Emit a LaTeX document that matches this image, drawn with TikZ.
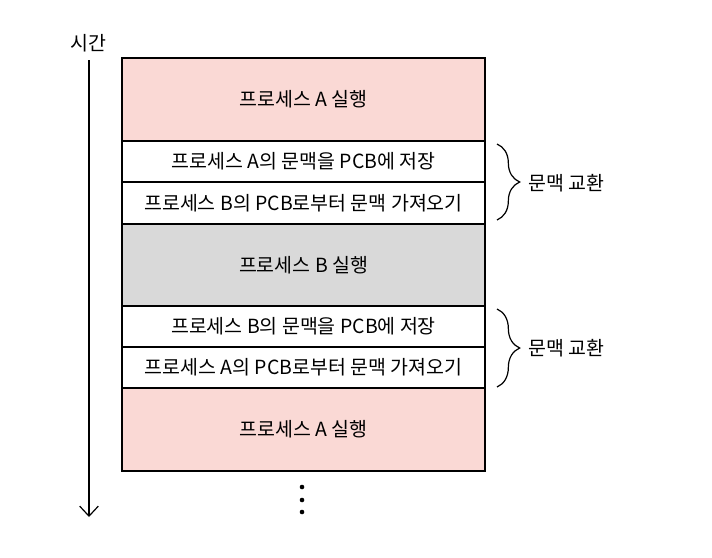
\documentclass[tikz,border=0pt]{standalone}
\usepackage{fontspec}
\setmainfont{Noto Sans CJK KR}
\usepackage{xcolor}
\usetikzlibrary{arrows.meta,decorations.pathreplacing}

\definecolor{runpink}{RGB}{250,217,213}
\definecolor{rungray}{RGB}{217,217,217}

\begin{document}
\begin{tikzpicture}[x=0.75pt,y=0.75pt,yscale=-1,xscale=1,
  every node/.style={inner sep=0.75pt,font=\fontsize{14.6}{17}\selectfont},
  rowline/.style={line width=1pt},
  swapbrace/.style={decorate,decoration={brace,amplitude=17pt},line width=0.9pt}]
\path (0,0) rectangle (712,557); %set diagram size

%Shape: Rectangle [run A]
\draw [rowline, fill=runpink] (122,58) -- (485,58) -- (485,141) -- (122,141) -- cycle ;
%Shape: Rectangle [save A]
\draw [rowline] (122,141) -- (485,141) -- (485,182) -- (122,182) -- cycle ;
%Shape: Rectangle [load B]
\draw [rowline] (122,182) -- (485,182) -- (485,224) -- (122,224) -- cycle ;
%Shape: Rectangle [run B]
\draw [rowline, fill=rungray] (122,224) -- (485,224) -- (485,306) -- (122,306) -- cycle ;
%Shape: Rectangle [save B]
\draw [rowline] (122,306) -- (485,306) -- (485,347) -- (122,347) -- cycle ;
%Shape: Rectangle [load A]
\draw [rowline] (122,347) -- (485,347) -- (485,388) -- (122,388) -- cycle ;
%Shape: Rectangle [run A again]
\draw [rowline, fill=runpink] (122,388) -- (485,388) -- (485,471) -- (122,471) -- cycle ;

%Straight Lines [time axis]
\coordinate (timeTop) at (89,60);
\coordinate (timeEnd) at (89,517);
\draw [line width=0.9pt, -{Straight Barb[length=7.5pt,width=14pt]}] (timeTop) -- (timeEnd) ;

%Curve Lines [braces]
\coordinate (braceTopA) at (497,144);
\coordinate (braceBotA) at (497,220);
\coordinate (braceTopB) at (497,309);
\coordinate (braceBotB) at (497,387);
\draw [swapbrace] (braceTopA) -- (braceBotA) ;
\draw [swapbrace] (braceTopB) -- (braceBotB) ;

%Shape: Circle [dots]
\fill (302,487) circle (2.3) ;
\fill (302,500) circle (2.3) ;
\fill (302,512) circle (2.3) ;

% Text Node
\node (timeLabel) at (88,43) {시간};
% Text Node
\node (runA) at (303.5,99.5) {프로세스 A 실행};
% Text Node
\node (saveA) at (303.5,161.5) {프로세스 A의 문맥을 PCB에 저장};
% Text Node
\node (loadB) at (303.5,203) {프로세스 B의 PCB로부터 문맥 가져오기};
% Text Node
\node (runB) at (303.5,265) {프로세스 B 실행};
% Text Node
\node (saveB) at (303.5,326.5) {프로세스 B의 문맥을 PCB에 저장};
% Text Node
\node (loadA) at (303.5,367.5) {프로세스 A의 PCB로부터 문맥 가져오기};
% Text Node
\node (runA2) at (303.5,429.5) {프로세스 A 실행};
% Text Node
\node [anchor=west] (swapA) at (527,183) {문맥 교환};
% Text Node
\node [anchor=west] (swapB) at (527,348) {문맥 교환};

\end{tikzpicture}
\end{document}
